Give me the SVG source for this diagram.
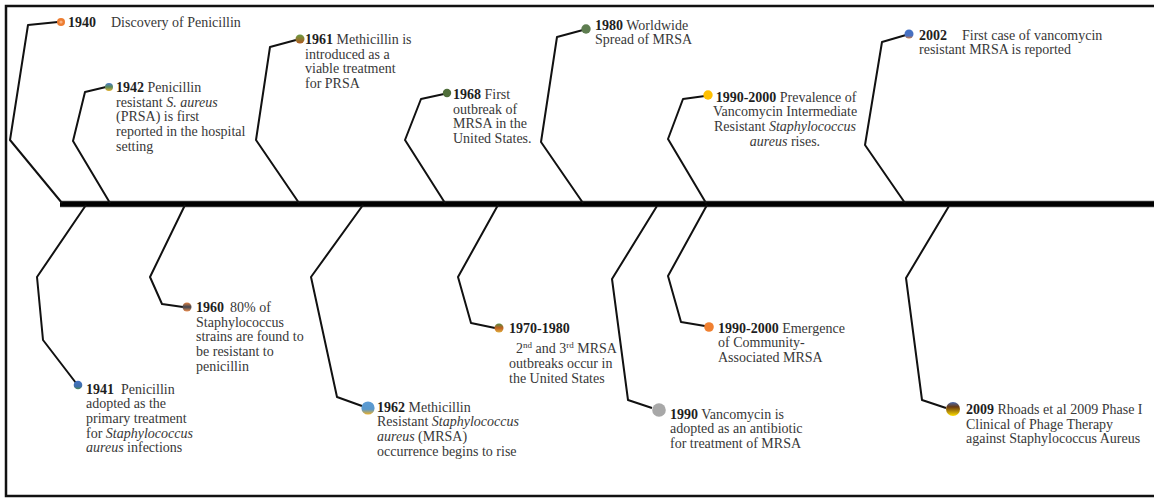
<svg xmlns="http://www.w3.org/2000/svg" width="1154" height="498" viewBox="0 0 1154 498">
<style>
text{font-family:"Liberation Serif","Times New Roman",serif;font-size:14px;fill:#383838}
.y{font-weight:bold;fill:#1e1e1e}
.i{font-style:italic}
.c{fill:none;stroke:#111;stroke-width:2;stroke-linejoin:round}
</style>
<defs>
<linearGradient id="g1942" x1="0" y1="0" x2="0" y2="1"><stop offset="0" stop-color="#4a7bc8"/><stop offset="0.5" stop-color="#5a8a5a"/><stop offset="1" stop-color="#e0b030"/></linearGradient>
<linearGradient id="g1961" x1="0" y1="0" x2="0" y2="1"><stop offset="0" stop-color="#6a9a40"/><stop offset="1" stop-color="#b05a20"/></linearGradient>
<linearGradient id="g2002" x1="0" y1="0" x2="0" y2="1"><stop offset="0" stop-color="#4472c4"/><stop offset="0.7" stop-color="#4a70c0"/><stop offset="1" stop-color="#d07a40"/></linearGradient>
<linearGradient id="g1941" x1="0" y1="0" x2="0" y2="1"><stop offset="0" stop-color="#4472c4"/><stop offset="0.7" stop-color="#3f6fa8"/><stop offset="1" stop-color="#4a8a50"/></linearGradient>
<linearGradient id="g1960" x1="0" y1="0" x2="0" y2="1"><stop offset="0" stop-color="#e08040"/><stop offset="0.5" stop-color="#404550"/><stop offset="1" stop-color="#f09050"/></linearGradient>
<linearGradient id="g1962" x1="0" y1="0" x2="0" y2="1"><stop offset="0" stop-color="#5b9bd5"/><stop offset="0.6" stop-color="#5a98cc"/><stop offset="1" stop-color="#f0b020"/></linearGradient>
<linearGradient id="g1970" x1="0" y1="0" x2="0" y2="1"><stop offset="0" stop-color="#5a8a40"/><stop offset="0.5" stop-color="#c06020"/><stop offset="1" stop-color="#e0b040"/></linearGradient>
<linearGradient id="g2009" x1="0" y1="0" x2="0" y2="1"><stop offset="0" stop-color="#4a6ab0"/><stop offset="0.35" stop-color="#6a3a10"/><stop offset="1" stop-color="#ffe000"/></linearGradient>
</defs>
<rect x="6" y="6" width="1160" height="490" fill="#fff" stroke="#111" stroke-width="2.5"/>
<line x1="60" y1="204" x2="1160" y2="204" stroke="#aaa" stroke-width="7"/>
<line x1="60" y1="204" x2="1160" y2="204" stroke="#000" stroke-width="5.5"/>
<g id="connectors">
<path class="c" d="M62,203 L10,140 L28,25 L58,22"/>
<path class="c" d="M110,203 L73,141 L85,92 L106,87"/>
<path class="c" d="M299,203 L256,140 L270,47 L296,40"/>
<path class="c" d="M445,203 L405,140 L421,99 L444,94"/>
<path class="c" d="M583,203 L541,142 L557,37 L583,30"/>
<path class="c" d="M706,203 L668,139 L683,99 L705,96"/>
<path class="c" d="M905,203 L865,145 L882,42 L906,35"/>
<path class="c" d="M86,205 L37,277 L43,340 L76,383"/>
<path class="c" d="M185,205 L150,277 L162,304 L183,307"/>
<path class="c" d="M363,205 L311,277 L337,397 L362,406"/>
<path class="c" d="M498,205 L458,277 L471,323 L495,328"/>
<path class="c" d="M657,206 L612,279 L628,400 L652,408"/>
<path class="c" d="M707,205 L668,276 L681,322 L705,326"/>
<path class="c" d="M949,206 L906,278 L922,400 L946,408"/>
</g>
<g id="e1940">
<circle cx="61" cy="22" r="4" fill="#ed7d31"/><circle cx="61" cy="22" r="1.6" fill="#f8b080"/>
<text y="26.5"><tspan class="y" x="68">1940</tspan><tspan x="111">Discovery of Penicillin</tspan></text>
</g>
<g id="e1942">
<circle cx="109" cy="87" r="4" fill="url(#g1942)"/>
<text><tspan x="116" y="92"><tspan class="y">1942</tspan> Penicillin</tspan><tspan x="116" y="106.7">resistant <tspan class="i">S. aureus</tspan></tspan><tspan x="116" y="121.4">(PRSA) is first</tspan><tspan x="116" y="136.1">reported in the hospital</tspan><tspan x="116" y="150.8">setting</tspan></text>
</g>
<g id="e1961">
<circle cx="300" cy="39" r="4.5" fill="url(#g1961)"/>
<text><tspan x="305" y="44"><tspan class="y">1961</tspan> Methicillin is</tspan><tspan x="305" y="58.7">introduced as a</tspan><tspan x="305" y="73.4">viable treatment</tspan><tspan x="305" y="88.1">for PRSA</tspan></text>
</g>
<g id="e1968">
<circle cx="447" cy="93" r="4.2" fill="#4f6e3a"/>
<text><tspan x="453" y="99"><tspan class="y">1968</tspan> First</tspan><tspan x="453" y="113.7">outbreak of</tspan><tspan x="453" y="128.4">MRSA in the</tspan><tspan x="453" y="143.1">United States.</tspan></text>
</g>
<g id="e1980">
<circle cx="586" cy="29" r="4.7" fill="#5e7d50"/>
<text><tspan x="595" y="29.5"><tspan class="y">1980</tspan> Worldwide</tspan><tspan x="595" y="44.2">Spread of MRSA</tspan></text>
</g>
<g id="e1990top">
<circle cx="708" cy="95" r="4.7" fill="#ffc000"/>
<text text-anchor="middle"><tspan x="786" y="101.5"><tspan class="y">1990-2000</tspan> Prevalence of</tspan><tspan x="785" y="116.2">Vancomycin Intermediate</tspan><tspan x="785" y="130.9">Resistant <tspan class="i">Staphylococcus</tspan></tspan><tspan x="785" y="145.6"><tspan class="i">aureus</tspan> rises.</tspan></text>
</g>
<g id="e2002">
<circle cx="909" cy="34" r="4.5" fill="url(#g2002)"/>
<text><tspan class="y" x="919" y="39.5">2002</tspan><tspan x="962" y="39.5">First case of vancomycin</tspan><tspan x="919" y="54.2">resistant MRSA is reported</tspan></text>
</g>
<g id="e1941">
<circle cx="78" cy="385" r="4.3" fill="url(#g1941)"/>
<text><tspan class="y" x="86" y="393.5">1941</tspan><tspan x="121" y="393.5">Penicillin</tspan><tspan x="86" y="408.2">adopted as the</tspan><tspan x="86" y="422.9">primary treatment</tspan><tspan x="86" y="437.6">for <tspan class="i">Staphylococcus</tspan></tspan><tspan x="86" y="452.3"><tspan class="i">aureus</tspan> infections</tspan></text>
</g>
<g id="e1960">
<circle cx="187" cy="307" r="4.5" fill="url(#g1960)"/>
<text><tspan class="y" x="196" y="312">1960</tspan><tspan x="230" y="312">80% of</tspan><tspan x="196" y="326.7">Staphylococcus</tspan><tspan x="196" y="341.4">strains are found to</tspan><tspan x="196" y="356.1">be resistant to</tspan><tspan x="196" y="370.8">penicillin</tspan></text>
</g>
<g id="e1962">
<circle cx="368" cy="408" r="6.6" fill="url(#g1962)"/>
<text><tspan x="377" y="411.7"><tspan class="y">1962</tspan> Methicillin</tspan><tspan x="377" y="426.4">Resistant <tspan class="i">Staphylococcus</tspan></tspan><tspan x="377" y="441.1"><tspan class="i">aureus</tspan> (MRSA)</tspan><tspan x="377" y="455.8">occurrence begins to rise</tspan></text>
</g>
<g id="e1970">
<circle cx="499" cy="328" r="4.5" fill="url(#g1970)"/>
<text><tspan class="y" x="509" y="333">1970-1980</tspan><tspan x="516" y="353.3">2<tspan font-size="9" dy="-5">nd</tspan><tspan dy="5"> and 3</tspan><tspan font-size="9" dy="-5">rd</tspan><tspan dy="5"> MRSA</tspan></tspan><tspan x="509" y="368">outbreaks occur in</tspan><tspan x="509" y="382.7">the United States</tspan></text>
</g>
<g id="e1990">
<circle cx="659" cy="410" r="6.8" fill="#a8a8a8"/>
<text><tspan x="670" y="418.5"><tspan class="y">1990</tspan> Vancomycin is</tspan><tspan x="670" y="433.2">adopted as an antibiotic</tspan><tspan x="670" y="447.9">for treatment of MRSA</tspan></text>
</g>
<g id="e1990bottom">
<circle cx="709" cy="327" r="4.8" fill="#f08030"/>
<text><tspan x="718" y="332.7"><tspan class="y">1990-2000</tspan> Emergence</tspan><tspan x="718" y="347.4">of Community-</tspan><tspan x="718" y="362.1">Associated MRSA</tspan></text>
</g>
<g id="e2009">
<circle cx="953" cy="409" r="7" fill="url(#g2009)"/>
<text><tspan x="966" y="414"><tspan class="y">2009</tspan> Rhoads et al 2009 Phase I</tspan><tspan x="966" y="428.7">Clinical of Phage Therapy</tspan><tspan x="966" y="443.4">against Staphylococcus Aureus</tspan></text>
</g>
</svg>
